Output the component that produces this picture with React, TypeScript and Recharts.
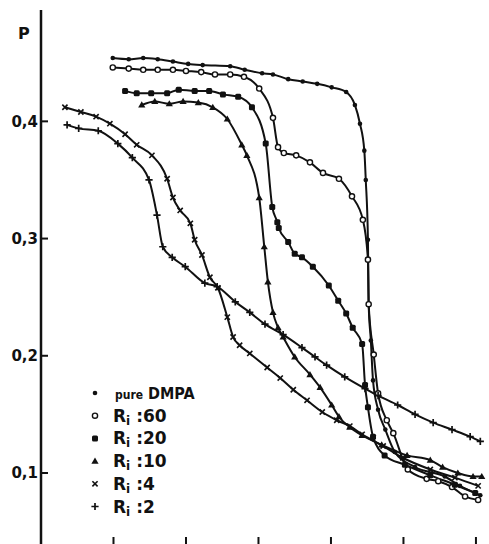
import React from "react";
import { LineChart, Line, XAxis, YAxis, Legend } from "recharts";

// [x, P] pairs
const pureDmpa: [number, number][] = [
  [0.99, 0.454], [1.21, 0.453], [1.41, 0.454], [1.61, 0.453], [1.82, 0.451],
  [2.03, 0.449], [2.23, 0.448], [2.61, 0.447], [2.81, 0.444], [3.05, 0.441],
  [3.2, 0.44], [3.41, 0.436], [3.61, 0.434], [3.81, 0.432], [4.01, 0.429],
  [4.21, 0.425], [4.33, 0.414], [4.4, 0.398], [4.46, 0.375], [4.48, 0.35],
  [4.51, 0.299], [4.52, 0.244], [4.55, 0.213], [4.58, 0.179], [4.65, 0.154],
  [4.75, 0.137], [4.88, 0.118], [5.16, 0.105], [5.57, 0.097], [5.78, 0.089],
  [6.06, 0.081],
];
const ri60: [number, number][] = [
  [0.99, 0.446], [1.21, 0.445], [1.41, 0.444], [1.61, 0.444], [1.82, 0.444],
  [2.0, 0.443], [2.21, 0.442], [2.4, 0.44], [2.61, 0.44], [2.8, 0.438],
  [3.01, 0.428], [3.2, 0.403], [3.27, 0.378], [3.35, 0.373], [3.52, 0.371],
  [3.71, 0.365], [3.89, 0.356], [4.11, 0.351], [4.29, 0.336], [4.44, 0.316],
  [4.51, 0.282], [4.52, 0.244], [4.59, 0.201], [4.65, 0.168], [4.77, 0.145],
  [4.86, 0.134], [5.06, 0.103], [5.32, 0.095], [5.48, 0.093], [5.67, 0.088],
  [5.85, 0.08], [6.03, 0.077],
];
const ri20: [number, number][] = [
  [1.16, 0.426], [1.32, 0.424], [1.52, 0.424], [1.74, 0.424], [1.9, 0.427],
  [2.12, 0.426], [2.32, 0.426], [2.51, 0.423], [2.72, 0.421], [2.91, 0.412],
  [3.1, 0.381], [3.19, 0.327], [3.26, 0.314], [3.28, 0.309], [3.41, 0.297],
  [3.5, 0.287], [3.6, 0.284], [3.75, 0.276], [3.97, 0.26], [4.1, 0.247],
  [4.21, 0.236], [4.3, 0.224], [4.43, 0.21], [4.47, 0.175], [4.51, 0.156],
  [4.58, 0.131], [4.74, 0.115], [5.02, 0.107], [5.37, 0.098], [5.71, 0.09],
  [5.99, 0.083],
];
const ri10: [number, number][] = [
  [1.39, 0.414], [1.57, 0.417], [1.77, 0.415], [1.96, 0.417], [2.17, 0.416],
  [2.37, 0.412], [2.57, 0.402], [2.77, 0.38], [2.84, 0.371], [3.01, 0.335],
  [3.08, 0.293], [3.13, 0.263], [3.2, 0.237], [3.27, 0.224], [3.34, 0.216],
  [3.5, 0.199], [3.71, 0.184], [3.85, 0.173], [4.01, 0.158], [4.11, 0.148],
  [4.26, 0.139], [4.43, 0.132], [4.7, 0.124], [5.05, 0.115], [5.37, 0.111],
  [5.54, 0.105], [5.75, 0.1], [5.96, 0.097], [6.08, 0.097],
];
const ri4: [number, number][] = [
  [0.33, 0.412], [0.55, 0.408], [0.76, 0.404], [0.95, 0.398], [1.16, 0.389],
  [1.32, 0.38], [1.53, 0.371], [1.74, 0.351], [1.82, 0.335], [1.92, 0.324],
  [2.06, 0.313], [2.12, 0.299], [2.22, 0.286], [2.33, 0.267], [2.44, 0.258],
  [2.57, 0.233], [2.65, 0.216], [2.74, 0.209], [2.88, 0.202], [3.12, 0.19],
  [3.3, 0.181], [3.48, 0.171], [3.67, 0.162], [3.88, 0.152], [4.08, 0.145],
  [4.26, 0.14], [4.43, 0.133], [4.72, 0.123], [4.99, 0.113], [5.37, 0.103],
  [5.71, 0.096], [6.03, 0.089],
];
const ri2: [number, number][] = [
  [0.36, 0.397], [0.52, 0.394], [0.79, 0.392], [1.06, 0.381], [1.26, 0.369],
  [1.49, 0.35], [1.6, 0.32], [1.68, 0.293], [1.81, 0.284], [1.99, 0.276],
  [2.26, 0.262], [2.43, 0.259], [2.68, 0.246], [2.88, 0.237], [3.09, 0.227],
  [3.34, 0.218], [3.6, 0.207], [3.78, 0.199], [3.94, 0.192], [4.19, 0.182],
  [4.47, 0.172], [4.65, 0.166], [4.92, 0.158], [5.16, 0.15], [5.41, 0.143],
  [5.67, 0.137], [5.92, 0.131], [6.06, 0.127],
];

const yTicks = [0.1, 0.2, 0.3, 0.4];
const xTicks = [1, 2, 3, 4, 5, 6];

const series = [
  { name: "pure DMPA", points: pureDmpa, shape: "dot" },
  { name: "Ri :60", points: ri60, shape: "ring" },
  { name: "Ri :20", points: ri20, shape: "bigdot" },
  { name: "Ri :10", points: ri10, shape: "tri" },
  { name: "Ri :4", points: ri4, shape: "cross" },
  { name: "Ri :2", points: ri2, shape: "plus" },
];

const INK = "#111";
const FONT = "'DejaVu Sans', sans-serif";
const LEGEND_FONT = "'DejaVu Sans Condensed', 'DejaVu Sans', sans-serif";

function Marker({ cx, cy, shape }: { cx: number; cy: number; shape: string }) {
  switch (shape) {
    case "dot":
      return <circle cx={cx} cy={cy} r={2.3} fill={INK} />;
    case "ring":
      return <circle cx={cx} cy={cy} r={2.6} fill="#fff" stroke={INK} strokeWidth={1.4} />;
    case "bigdot":
      return <rect x={cx - 3} y={cy - 3} width={6} height={6} rx={1.5} fill={INK} />;
    case "tri":
      return (
        <path d={`M${cx},${cy - 3.6}L${cx + 3.6},${cy + 2.6}L${cx - 3.6},${cy + 2.6}Z`} fill={INK} />
      );
    case "cross":
      return (
        <path
          d={`M${cx - 2.6},${cy - 2.6}L${cx + 2.6},${cy + 2.6}M${cx + 2.6},${cy - 2.6}L${cx - 2.6},${cy + 2.6}`}
          stroke={INK}
          strokeWidth={1.6}
        />
      );
    default:
      return (
        <path
          d={`M${cx - 3.6},${cy}L${cx + 3.6},${cy}M${cx},${cy - 3.6}L${cx},${cy + 3.6}`}
          stroke={INK}
          strokeWidth={1.7}
        />
      );
  }
}

function YTick(props: any) {
  const { x, y, payload } = props;
  const label = String(payload.value).replace(".", ",");
  return (
    <g>
      <line x1={x + 3} x2={x + 10} y1={y} y2={y} stroke={INK} strokeWidth={2} />
      <text x={x} y={y} dy="0.36em" textAnchor="end" fontFamily={FONT} fontWeight="bold" fontSize={15} fill={INK}>
        {label}
      </text>
    </g>
  );
}

function XTick(props: any) {
  const { x, y } = props;
  return <line x1={x} x2={x} y1={y - 11} y2={y} stroke={INK} strokeWidth={2} />;
}

// legend drawn in series order (recharts would sort the payload by name)
function LegendBox() {
  return (
    <svg width={150} height={140}>
      {series.map((s, i) => {
        const cy = 13 + i * 22.7;
        return (
          <g key={s.name}>
            <Marker cx={10} cy={cy} shape={s.shape} />
            {s.name.startsWith("Ri") ? (
              <text x={28} y={cy + 6} fontFamily={FONT} fontWeight="bold" fontSize={17} fill={INK}>
                R
                <tspan fontSize={12} dy={3}>i</tspan>
                <tspan dy={-3}>{" " + s.name.slice(3)}</tspan>
              </text>
            ) : (
              <text x={30} y={cy + 6} fontFamily={LEGEND_FONT} fontWeight="bold" fontSize={16} fill={INK}>
                <tspan fontSize={12}>pure</tspan> DMPA
              </text>
            )}
          </g>
        );
      })}
    </svg>
  );
}

export default function App() {
  return (
    <div
      style={{
        position: "fixed",
        left: 0,
        top: 0,
        width: 489,
        height: 544,
        overflow: "hidden",
        background: "#fff",
      }}
    >
      <LineChart width={489} height={560} margin={{ top: 10, right: 0, bottom: 0, left: 0 }}>
        <XAxis
          type="number"
          dataKey="x"
          domain={[0, 6.18]}
          ticks={xTicks}
          height={12}
          axisLine={false}
          tickLine={false}
          tickSize={0}
          tickMargin={0}
          tick={XTick}
          allowDataOverflow
        />
        <YAxis
          type="number"
          domain={[0.036, 0.495]}
          ticks={yTicks}
          width={41}
          axisLine={{ stroke: INK, strokeWidth: 2.5 }}
          tickLine={false}
          tickSize={0}
          tickMargin={3}
          tick={YTick}
          allowDataOverflow
          label={{
            content: () => (
              <text x={18} y={39} fontFamily={FONT} fontWeight="bold" fontSize={16} fill={INK}>
                P
              </text>
            ),
          }}
        />
        <Legend
          layout="horizontal"
          verticalAlign="middle"
          content={LegendBox}
          wrapperStyle={{ position: "absolute", left: 85, top: 380, width: 150, height: 140 }}
        />
        {series.map((s) => (
          <Line
            key={s.name}
            name={s.name}
            data={s.points.map(([x, p]) => ({ x, p }))}
            dataKey="p"
            type="monotone"
            stroke={INK}
            strokeWidth={2}
            strokeLinejoin="round"
            isAnimationActive={false}
            legendType="none"
            activeDot={false}
            dot={(d: any) => <Marker key={`${s.name}-${d.index}`} cx={d.cx} cy={d.cy} shape={s.shape} />}
          />
        ))}
      </LineChart>
    </div>
  );
}
